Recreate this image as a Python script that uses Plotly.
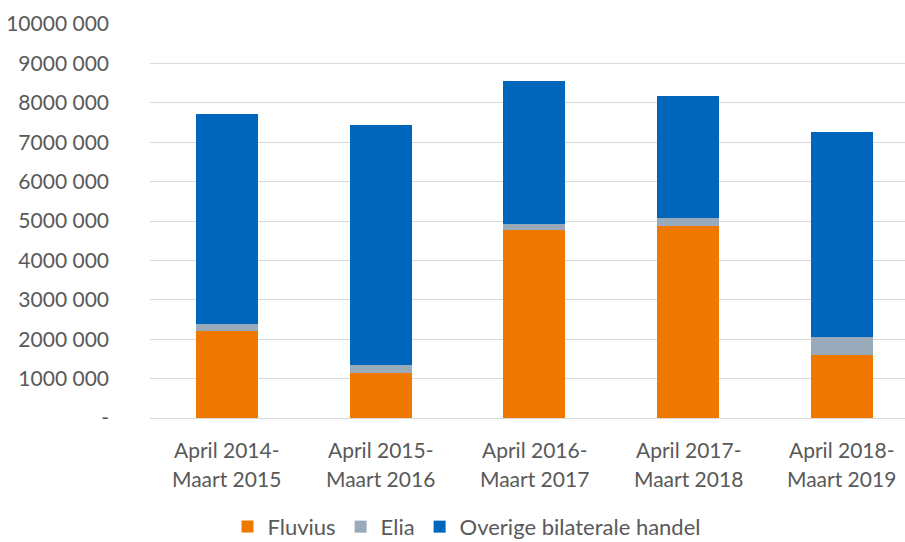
import plotly.graph_objects as go

categories = ["April 2014-Maart 2015", "April 2015-Maart 2016", "April 2016-Maart 2017",
              "April 2017-Maart 2018", "April 2018-Maart 2019"]
fluvius = [2210000, 1140000, 4780000, 4880000, 1600000]
elia = [170000, 200000, 140000, 200000, 450000]
overige = [5340000, 6090000, 3640000, 3090000, 5210000]
tick_vals = [0, 1000000, 2000000, 3000000, 4000000, 5000000, 6000000, 7000000, 8000000, 9000000, 10000000]
tick_text = ["-", "1000 000", "2000 000", "3000 000", "4000 000", "5000 000", "6000 000",
             "7000 000", "8000 000", "9000 000", "10000 000"]

font_family = "Lato, 'Open Sans', sans-serif"
txt = "#595959"

fig = go.Figure()
fig.add_trace(go.Bar(x=categories, y=fluvius, name="Fluvius", marker=dict(color="#EE7800", line=dict(width=0))))
fig.add_trace(go.Bar(x=categories, y=elia, name="Elia", marker=dict(color="#99AABB", line=dict(width=0))))
fig.add_trace(go.Bar(x=categories, y=overige, name="Overige bilaterale handel", marker=dict(color="#0066BB", line=dict(width=0))))

# two-line category labels (as in the reference)
for c in categories:
    first, second = c.split("-", 1)
    fig.add_annotation(x=c, xref="x", y=0, yref="paper", yshift=-31, yanchor="middle",
                       text=first + "-", showarrow=False, font=dict(size=21, color=txt))
    fig.add_annotation(x=c, xref="x", y=0, yref="paper", yshift=-60, yanchor="middle",
                       text=second, showarrow=False, font=dict(size=21, color=txt))

fig.update_layout(
    width=905, height=542,
    barmode="stack", bargap=0.597,
    paper_bgcolor="white", plot_bgcolor="white",
    margin=dict(l=150, r=0, t=24, b=124),
    font=dict(family=font_family, size=21, color=txt),
    showlegend=True,
    legend=dict(orientation="h", xref="container", yref="container", x=0.516, y=0.028,
                xanchor="center", yanchor="middle", font=dict(size=22, color=txt),
                itemwidth=30, traceorder="normal"),
    xaxis=dict(showgrid=False, showline=False, ticks="", showticklabels=False,
               range=[-0.5, 4.41]),
    yaxis=dict(range=[0, 10000000], tickvals=tick_vals, ticktext=tick_text, showgrid=True,
               gridcolor="#D9D9D9", gridwidth=1, zeroline=True, zerolinecolor="#D9D9D9",
               zerolinewidth=1, ticks="", ticklabelstandoff=40, tickfont=dict(size=21, color=txt)),
)
fig.write_html("out.html", config={"displayModeBar": False},
               post_script="document.body.style.margin='0';")
